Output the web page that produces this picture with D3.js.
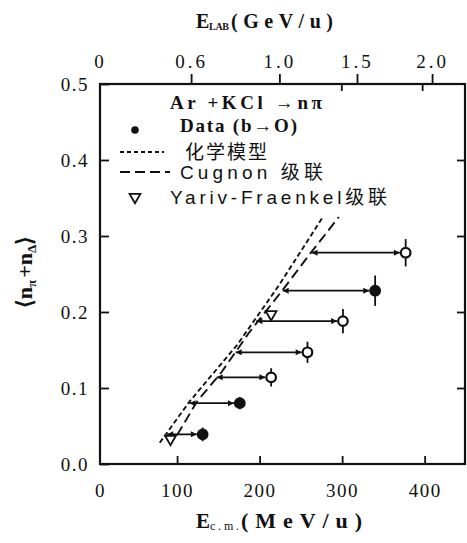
<!DOCTYPE html>
<html><head><meta charset="utf-8">
<script src="https://cdn.jsdelivr.net/npm/d3@7"></script>
<style>
body{margin:0;background:#fff;}
svg text{fill:#111;}
</style></head><body>
<svg id="chart" width="467" height="543"></svg>
<script>
// ---- data ----
const xTicks = [0, 100, 200, 300, 400];
const yTicks = [0, 0.1, 0.2, 0.3, 0.4, 0.5];
const topTickLabels = ["0", "0.6", "1.0", "1.5", "2.0"];
const topTickEcm = [0, 117, 224, 318, 409];       // E_c.m. positions of E_LAB ticks
const topMinorEcm = [299, 397];
const dataE = [377, 340, 301, 258, 214, 176, 131];
const dataN = [0.278, 0.228, 0.188, 0.147, 0.114, 0.080, 0.039];
const dataErr = [0.018, 0.020, 0.016, 0.014, 0.012, 0.008, 0.009];
const dataFilled = [false, true, false, false, false, true, true];
const arrowStartE = [263, 228, 196, 171, 148, 115, 88];
const chemE = [79, 115, 173, 224, 276];
const chemN = [0.028, 0.082, 0.157, 0.236, 0.324];
const cugE = [100, 124, 154, 188, 228, 260, 296];
const cugN = [0.038, 0.082, 0.121, 0.174, 0.229, 0.275, 0.325];
const yfE = [214, 92];
const yfN = [0.197, 0.033];
const xDomain = [6.6, 448.9];
const yDomain = [0, 0.5];

const SERIF = "'Liberation Serif','Times New Roman',serif";
const SANS = "'Liberation Sans','Noto Sans CJK SC',sans-serif";
const CJK = "'Noto Sans CJK SC',sans-serif";

const svg = d3.select("#chart");
const L = 100, R = 465, T = 84, B = 464;
const x = d3.scaleLinear().domain(xDomain).range([L, R]).clamp(true);
const y = d3.scaleLinear().domain(yDomain).range([B, T]);

// markers
const defs = svg.append("defs");
defs.append("marker").attr("id", "arr").attr("viewBox", "0 0 10 10")
  .attr("refX", 10).attr("refY", 5).attr("markerWidth", 8).attr("markerHeight", 6)
  .attr("markerUnits", "userSpaceOnUse").attr("orient", "auto-start-reverse")
  .append("path").attr("d", "M0,0 L10,5 L0,10 Z").attr("fill", "#111");

// frame
svg.append("rect").attr("x", L).attr("y", T).attr("width", R - L).attr("height", B - T)
  .attr("fill", "none").attr("stroke", "#111").attr("stroke-width", 2.2);

function styleTicks(g, size) {
  g.select(".domain").remove();
  g.selectAll(".tick line").attr("stroke", "#111").attr("stroke-width", 1.8);
  g.selectAll(".tick text").style("font-family", SERIF).style("font-size", size + "px")
    .attr("letter-spacing", 1.5);
}

// left axis
const gl = svg.append("g").attr("transform", `translate(${L},0)`)
  .call(d3.axisLeft(y).tickValues(yTicks).tickSize(-9).tickPadding(11).tickFormat(d3.format(".1f")));
styleTicks(gl, 19);

// right axis (ticks only)
const gr = svg.append("g").attr("transform", `translate(${R},0)`)
  .call(d3.axisRight(y).tickValues(yTicks.slice(1, 5)).tickSize(-8).tickFormat(""));
styleTicks(gr, 19);

// bottom axis
const gb = svg.append("g").attr("transform", `translate(0,${B})`)
  .call(d3.axisBottom(x).tickValues(xTicks).tickSize(-8).tickPadding(20).tickFormat(d3.format("d")));
styleTicks(gb, 19);
gb.selectAll(".tick line").filter(d => d === 0).remove();

// top axis (E_LAB)
const gt = svg.append("g").attr("transform", `translate(0,${T})`)
  .call(d3.axisTop(x).tickValues(topTickEcm).tickSize(10).tickPadding(6)
    .tickFormat((d, i) => topTickLabels[i]));
styleTicks(gt, 19);
gt.selectAll(".tick text").attr("letter-spacing", 3);
gt.selectAll(".tick line").filter(d => d === 0).remove();
const gtm = svg.append("g").attr("transform", `translate(0,${T})`)
  .call(d3.axisTop(x).tickValues(topMinorEcm).tickSize(-7).tickFormat(""));
styleTicks(gtm, 19);

// theory curves
const line = d3.line().x(d => x(d[0])).y(d => y(d[1]));
svg.append("path").datum(chemE.map((e, i) => [e, chemN[i]])).attr("d", line)
  .attr("fill", "none").attr("stroke", "#111").attr("stroke-width", 1.9).attr("stroke-dasharray", "5,3");
svg.append("path").datum(cugE.map((e, i) => [e, cugN[i]])).attr("d", line)
  .attr("fill", "none").attr("stroke", "#111").attr("stroke-width", 1.9).attr("stroke-dasharray", "10,5");

// arrows
const pts = dataE.map((e, i) => ({e, n: dataN[i], err: dataErr[i], filled: dataFilled[i], s: arrowStartE[i]}));
const r = 4.8;
svg.append("g").selectAll("line").data(pts).join("line")
  .attr("x1", d => x(d.s)).attr("x2", d => x(d.e) - r - 1)
  .attr("y1", d => y(d.n)).attr("y2", d => y(d.n))
  .attr("stroke", "#111").attr("stroke-width", 1.8)
  .attr("marker-end", "url(#arr)").attr("marker-start", "url(#arr)");

// error bars
svg.append("g").selectAll("line").data(pts).join("line")
  .attr("x1", d => x(d.e)).attr("x2", d => x(d.e))
  .attr("y1", d => y(d.n - d.err)).attr("y2", d => y(d.n + d.err))
  .attr("stroke", "#111").attr("stroke-width", 1.8);

// points
svg.append("g").selectAll("circle").data(pts).join("circle")
  .attr("cx", d => x(d.e)).attr("cy", d => y(d.n)).attr("r", r)
  .attr("fill", d => d.filled ? "#111" : "#fff").attr("stroke", "#111").attr("stroke-width", 2.2);

// Yariv-Fraenkel triangles
const tri = d3.symbol().type(d3.symbolTriangle).size(50);
svg.append("g").selectAll("path").data(yfE.map((e, i) => [e, yfN[i]])).join("path")
  .attr("d", tri).attr("transform", d => `translate(${x(d[0])},${y(d[1])}) rotate(180)`)
  .attr("fill", "#fff").attr("stroke", "#111").attr("stroke-width", 1.8);

// legend
const lg = svg.append("g");
function ltext(xp, yp, str, size, fam, weight, len) {
  const t = lg.append("text").attr("x", xp).attr("y", yp).style("font-size", size + "px")
    .style("font-family", fam).style("font-weight", weight).text(str);
  if (len) t.attr("textLength", len).attr("lengthAdjust", "spacing");
  return t;
}
ltext(170, 109, "Ar +KCl →nπ", 19, SERIF, "bold", 152);
lg.append("circle").attr("cx", 135).attr("cy", 130).attr("r", 3.8).attr("fill", "#111");
ltext(180, 132, "Data (b→O)", 19, SERIF, "bold", 117);
lg.append("line").attr("x1", 120).attr("x2", 164).attr("y1", 152).attr("y2", 152)
  .attr("stroke", "#111").attr("stroke-width", 1.8).attr("stroke-dasharray", "4,3");
ltext(185, 159, "化学模型", 19, CJK, "normal", 82);
lg.append("line").attr("x1", 120).attr("x2", 170).attr("y1", 172).attr("y2", 172)
  .attr("stroke", "#111").attr("stroke-width", 1.9).attr("stroke-dasharray", "10,5");
ltext(180, 179, "Cugnon 级联", 19, SANS, "normal", 143);
lg.append("path").attr("d", tri).attr("transform", "translate(135,197) rotate(180)")
  .attr("fill", "#fff").attr("stroke", "#111").attr("stroke-width", 1.8);
ltext(170, 204, "Yariv-Fraenkel级联", 19, SANS, "normal", 217);

// axis titles
function ttext(xp, yp, str, size, weight, len) {
  const t = svg.append("text").attr("x", xp).attr("y", yp).style("font-size", size + "px")
    .style("font-family", SERIF).style("font-weight", weight).text(str);
  if (len) t.attr("textLength", len).attr("lengthAdjust", "spacing");
  return t;
}
ttext(196, 28, "E", 20, "bold");
ttext(209, 30, "LAB", 10, "bold", 20);
ttext(231, 28, "(GeV/u)", 20, "bold", 102);

ttext(196, 528, "E", 21, "bold");
ttext(210, 530, "c.m.", 12, "normal", 29);
ttext(241, 528, "(MeV/u)", 22, "bold", 121);

const yl = svg.append("text").attr("transform", "translate(32,272) rotate(-90)")
  .attr("text-anchor", "middle").style("font-size", "22px").style("font-family", SERIF)
  .style("font-weight", "bold");
yl.append("tspan").text("⟨n");
yl.append("tspan").style("font-size", "13px").attr("dy", 4).text("π");
yl.append("tspan").attr("dy", -4).attr("dx", 2).text("+n");
yl.append("tspan").style("font-size", "13px").attr("dy", 4).text("Δ");
yl.append("tspan").attr("dy", -4).text("⟩");
</script>
</body></html>
